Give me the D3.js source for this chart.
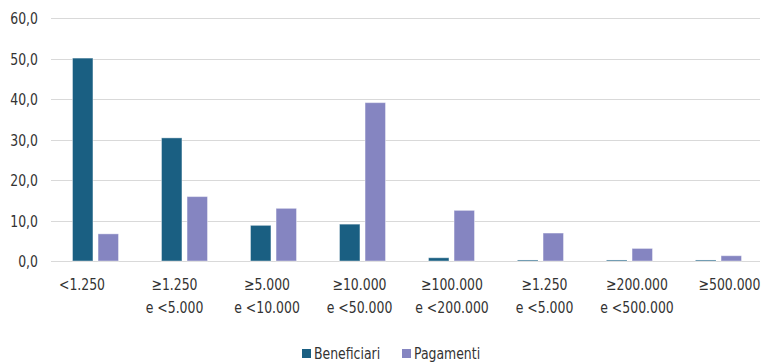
<!DOCTYPE html>
<html lang="it">
<head>
    <meta charset="UTF-8">
    <title>Beneficiari e pagamenti per classe di importo</title>
    <script src="https://d3js.org/d3.v7.min.js"></script>
    <style>
        body {
            margin: 0;
            padding: 0;
            background: #fff;
            overflow: hidden;
        }
        svg text {
            font-family: "DejaVu Sans Condensed", "DejaVu Sans", sans-serif;
            fill: #333;
        }
        .grid line {
            stroke: #d9d9d9;
            stroke-width: 1;
        }
        .grid .domain { display: none; }
    </style>
</head>
<body>
<div id="chart"></div>
<script>
    // data (percent)
    const categories = [
        ["<1.250"],
        ["≥1.250", "e <5.000"],
        ["≥5.000", "e <10.000"],
        ["≥10.000", "e <50.000"],
        ["≥100.000", "e <200.000"],
        ["≥1.250", "e <5.000"],
        ["≥200.000", "e <500.000"],
        ["≥500.000"]
    ];
    const beneficiari = [50.1, 30.4, 8.8, 9.1, 0.8, 0.25, 0.25, 0.25];
    const pagamenti = [6.7, 15.9, 13.0, 39.1, 12.5, 6.9, 3.1, 1.3];
    const yTicks = [0, 10, 20, 30, 40, 50, 60];
    const seriesNames = ["Beneficiari", "Pagamenti"];
    const colors = ["#1a5f82", "#8585c1"];

    const width = 763, height = 364;
    const margin = {top: 18, right: 0, bottom: 103, left: 51};
    const sx = 0.84; // condensed look of the original font

    const svg = d3.select("#chart").append("svg")
        .attr("width", width)
        .attr("height", height);

    const x = d3.scaleBand()
        .domain(d3.range(categories.length))
        .range([margin.left, margin.left + 8 * 89]);

    // category labels sit on a slightly wider spacing than the bars in the original
    const xLab = d3.scalePoint()
        .domain(d3.range(categories.length))
        .range([82, 82 + 7 * 92.5]);

    const inner = d3.scaleBand()
        .domain([0, 1])
        .range([x.bandwidth() / 2 - 23, x.bandwidth() / 2 + 23])
        .paddingInner(0.2);

    const y = d3.scaleLinear()
        .domain([0, 60])
        .range([height - margin.bottom, margin.top]);

    // gridlines
    svg.append("g")
        .attr("class", "grid")
        .attr("transform", `translate(${margin.left},0)`)
        .call(d3.axisLeft(y).tickValues(yTicks).tickSize(-(width - margin.left - 3)).tickFormat(""))
        .call(g => g.selectAll("line").attr("shape-rendering", "crispEdges"));

    // y labels
    svg.append("g")
        .selectAll("text")
        .data(yTicks)
        .join("text")
        .attr("text-anchor", "end")
        .attr("font-size", 16.5)
        .attr("transform", d => `translate(38,${y(d) + 6}) scale(${sx},1)`)
        .text(d => d.toFixed(1).replace(".", ","));

    // bars
    const series = [beneficiari, pagamenti];
    const groups = svg.append("g")
        .selectAll("g")
        .data(categories.map((c, i) => i))
        .join("g")
        .attr("transform", i => `translate(${x(i)},0)`);

    groups.selectAll("rect")
        .data(i => series.map((s, k) => ({k, v: s[i]})))
        .join("rect")
        .attr("x", d => inner(d.k))
        .attr("width", inner.bandwidth())
        .attr("y", d => y(d.v))
        .attr("height", d => y(0) - y(d.v))
        .attr("fill", d => colors[d.k])
        .attr("stroke", "#ffffff")
        .attr("stroke-opacity", 0.4)
        .attr("stroke-width", 1);

    // x labels
    const lab = svg.append("g")
        .selectAll("text")
        .data(categories)
        .join("text")
        .attr("text-anchor", "middle")
        .attr("font-size", 16.5)
        .attr("transform", (d, i) => `translate(${xLab(i)},290) scale(${sx},1)`);

    lab.selectAll("tspan")
        .data(d => d)
        .join("tspan")
        .attr("x", 0)
        .attr("y", (d, j) => j * 23)
        .text(d => d);

    // legend
    const legend = svg.append("g")
        .selectAll("g")
        .data(seriesNames)
        .join("g")
        .attr("transform", (d, i) => `translate(${302 + i * 100},349)`);

    legend.append("rect")
        .attr("width", 9)
        .attr("height", 9)
        .attr("fill", (d, i) => colors[i]);

    legend.append("text")
        .attr("font-size", 16.5)
        .attr("transform", `translate(12,10) scale(${sx},1)`)
        .text(d => d);
</script>
</body>
</html>
